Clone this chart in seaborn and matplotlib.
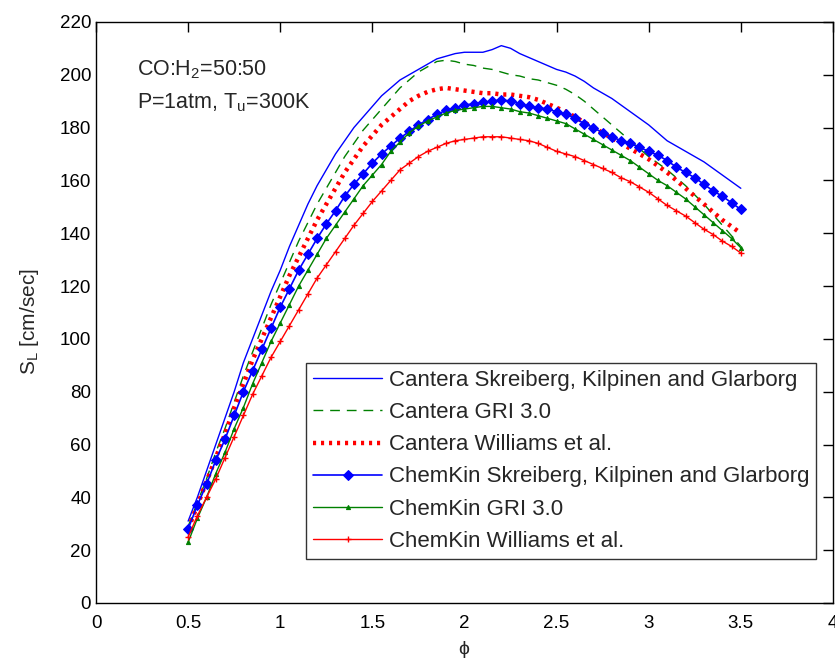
import numpy as np
import pandas as pd
import seaborn as sns
import matplotlib.pyplot as plt

# equivalence ratio grid
phi = np.round(np.arange(0.5, 3.5001, 0.05), 2)

cantera_skg = [31, 40, 50, 60, 70, 80, 91, 100, 109, 118,
               126, 135, 143, 151, 158, 164, 170, 175, 180, 184,
               188, 192, 195, 198, 200, 202, 204, 206, 207, 208,
               208.5, 208.5, 208.5, 209.5, 211, 210, 208, 206.5, 205, 203.5,
               202, 201, 199.5, 197.5, 195, 193, 191, 188.5, 186, 183.5,
               181, 178, 175, 173, 171, 169, 167, 164.5, 162, 159.5, 157]
cantera_gri = [29, 38, 47, 57, 66, 76, 86, 95, 104, 113,
               121, 129, 137, 144, 151, 157, 163, 169, 174, 179,
               183, 187, 191, 195, 198, 201, 203, 205, 205.5, 205,
               204, 203.5, 202.5, 202, 201, 200, 199.5, 198.5, 198, 197,
               196, 194.5, 192.5, 190, 187, 184, 181, 178, 175, 172,
               169, 166.5, 164, 161, 158, 154.5, 151, 147, 143, 139, 135]
cantera_williams = [28, 37, 46, 55, 64, 74, 83, 92, 100, 108,
                    116, 124, 131, 138, 145, 151, 157, 163, 168, 173,
                    177, 181, 184, 187, 190, 192, 193.5, 194.5, 195, 194.5,
                    194, 193.5, 193, 193, 192.5, 192.5, 192, 191.5, 190.5, 189,
                    187.5, 186, 184, 182, 180, 178, 176, 174, 172, 170,
                    168, 165.5, 163, 160, 157, 154, 151, 148, 145, 142.5, 140]
chemkin_skg = [28, 37, 45, 54, 62, 71, 80, 88, 96, 104,
               112, 119, 126, 132, 138, 143.5, 148.5, 154, 158.5, 162.5,
               166.5, 170, 173, 176, 178.5, 181, 183, 185, 186.5, 187.5,
               188.5, 189, 189.5, 190, 190.5, 190, 189, 188, 187.5, 187,
               186, 185, 183.5, 181.5, 180, 178, 176.5, 175, 174, 172.5,
               171, 169.5, 167.5, 165, 163, 161, 158.5, 156, 154, 151.5, 149]
chemkin_gri = [23, 32, 40, 49, 57, 66, 74, 83, 91, 99,
               106, 113, 120, 126, 132, 138, 143, 148, 153, 158,
               162, 166, 171, 174.5, 178, 180.5, 182.5, 184, 185.5, 186.5,
               187, 187.5, 188, 188, 187.5, 187, 186, 185.5, 184.5, 183.5,
               182.5, 181.5, 179.5, 177.5, 175.5, 173.5, 171.5, 169.5, 167.5, 165,
               162.5, 160, 158, 155.5, 153, 150, 147, 144, 141, 138, 134.5]
chemkin_williams = [25, 33, 40, 47, 55, 63, 71, 79, 86, 93,
                    99, 105, 111, 117, 123, 128, 133, 138, 143, 147.5,
                    152, 156, 160, 164, 166.5, 169, 171, 172.5, 174, 175,
                    175.5, 176, 176.5, 176.5, 176.5, 176, 175.5, 175, 174, 172.5,
                    171, 170, 169, 167.5, 166, 164.5, 163, 161, 159.5, 157.5,
                    155.5, 153, 150.5, 148.5, 146.5, 144, 141.5, 139.5, 137, 135, 132.5]

labels = ["Cantera Skreiberg, Kilpinen and Glarborg", "Cantera GRI 3.0",
          "Cantera Williams et al.", "ChemKin Skreiberg, Kilpinen and Glarborg",
          "ChemKin GRI 3.0", "ChemKin Williams et al."]
series = [cantera_skg, cantera_gri, cantera_williams,
          chemkin_skg, chemkin_gri, chemkin_williams]

sns.set_style("white")
plt.rcParams['font.family'] = ['Liberation Sans', 'DejaVu Sans']
plt.rcParams['mathtext.fontset'] = 'custom'
plt.rcParams['mathtext.rm'] = 'Liberation Sans'
plt.rcParams['mathtext.it'] = 'Liberation Sans'

blue = (0, 0, 1)
green = (0, 0.5, 0)
red = (1, 0, 0)
styles = [
    dict(color=blue, linestyle='-', linewidth=1),
    dict(color=green, linestyle=(0, (7, 5)), linewidth=1),
    dict(color=red, linestyle=(0, (0.7, 1.1)), linewidth=3.2),
    dict(color=blue, linestyle='-', linewidth=1.2, marker='D', markersize=5,
         markeredgecolor=blue, markerfacecolor=blue),
    dict(color=green, linestyle='-', linewidth=1, marker='^', markersize=3,
         markeredgecolor=green, markerfacecolor=green),
    dict(color=red, linestyle='-', linewidth=1, marker='+', markersize=4.5,
         markeredgecolor=red, markeredgewidth=1),
]

fig = plt.figure(figsize=(8.35, 6.63), dpi=100)
ax = fig.add_axes([0.115, 0.0905, 0.8825, 0.8765])

for lab, vals, st in zip(labels, series, styles):
    df = pd.DataFrame({"phi": phi, "SL": vals})
    sns.lineplot(data=df, x="phi", y="SL", ax=ax, label=lab, **st)

ax.set_xlim(0, 4)
ax.set_ylim(0, 220)
ax.set_xticks(np.arange(0, 4.01, 0.5))
ax.set_xticklabels(["0", "0.5", "1", "1.5", "2", "2.5", "3", "3.5", "4"])
ax.set_yticks(np.arange(0, 221, 20))
ax.tick_params(direction='in', length=7, width=1, top=True, right=True,
               labelsize=13.5, colors='black')
ax.tick_params(axis='x', pad=9)
for sp in ax.spines.values():
    sp.set_color('black')
    sp.set_linewidth(1)

ax.set_xlabel(r"$\phi$", fontsize=14, family='DejaVu Sans')
ax.xaxis.set_label_coords(0.5, -0.062)
ax.set_ylabel(r"S$_\mathregular{L}$ [cm/sec]", fontsize=15)
ax.yaxis.set_label_coords(-0.075, 0.485)

ax.text(0.22, 199.6, r"CO:H$_\mathregular{2}$=50:50", fontsize=15.5, va='baseline')
ax.text(0.22, 187.4, r"P=1atm, T$_\mathregular{u}$=300K", fontsize=15.5, va='baseline')

leg = ax.legend(loc='upper left', bbox_to_anchor=(0.285, 0.413), fontsize=16,
                frameon=True, fancybox=False, edgecolor='black',
                handlelength=3.1, handletextpad=0.3, labelspacing=0.5,
                borderpad=0.32, borderaxespad=0)
leg.get_frame().set_linewidth(1)

fig.savefig("out.png", dpi=100)
